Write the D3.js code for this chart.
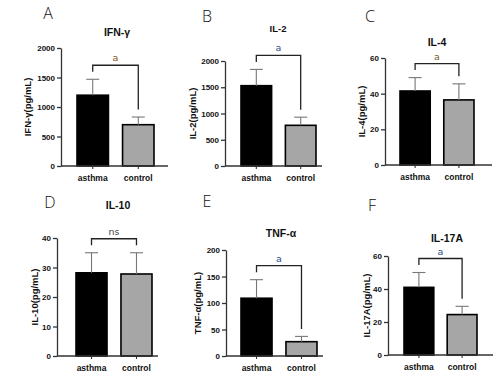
<!DOCTYPE html>
<html>
<head>
<meta charset="utf-8">
<script src="https://cdn.jsdelivr.net/npm/d3@7"></script>
<style>
  html, body { margin: 0; padding: 0; background: #fff; }
  svg { display: block; }
  text { font-family: "Liberation Sans", Arial, sans-serif; }
</style>
</head>
<body>
<div id="viz"></div>
<script>
// six cytokine panels, asthma vs control (mean + upper SD)

const panelLetters = ["A", "B", "C", "D", "E", "F"];
const cytokines = ["IFN-γ", "IL-2", "IL-4", "IL-10", "TNF-α", "IL-17A"];
const yAxisTitles = ["IFN-γ(pg/mL)", "IL-2(pg/mL)", "IL-4(pg/mL)", "IL-10(pg/mL)", "TNF-α(pg/mL)", "IL-17A(pg/mL)"];
const groups = ["asthma", "control"];

const asthmaMean = [1200, 1530, 41.5, 28.2, 109, 41];
const asthmaSD = [270, 310, 7.5, 6.8, 35, 9];
const controlMean = [700, 775, 36.5, 27.8, 27, 24.5];
const controlSD = [130, 155, 9, 7.2, 10, 5];

const yMax = [2000, 2000, 60, 40, 200, 60];
const yTickValues = [
    [0, 500, 1000, 1500, 2000],
    [0, 500, 1000, 1500, 2000],
    [0, 20, 40, 60],
    [0, 10, 20, 30, 40],
    [0, 50, 100, 150, 200],
    [0, 20, 40, 60]
];
const sigMarks = ["a", "a", "a", "ns", "a", "a"];

// where each panel sits on the page
const layout = [
    {ax: 61,  top: 48,  bottom: 166, xEnd: 168, b0: 77,  b1: 154, letter: [48, 13],   title: [117, 32],  labX: 28,  titleSize: 10.5, sigColor: "#8a5428"},
    {ax: 225, top: 61,  bottom: 166, xEnd: 322, b0: 241, b1: 316, letter: [207, 16],  title: [278, 29],  labX: 193, titleSize: 9.5,  sigColor: "#2f4a8c"},
    {ax: 385, top: 58,  bottom: 165, xEnd: 492, b0: 400, b1: 474, letter: [370, 16],  title: [437, 42],  labX: 362, titleSize: 10.5, sigColor: "#7a5a30"},
    {ax: 57,  top: 238, bottom: 356, xEnd: 158, b0: 76,  b1: 152, letter: [50, 202],  title: [118, 205], labX: 35,  titleSize: 10.5, sigColor: "#444"},
    {ax: 226, top: 250, bottom: 356, xEnd: 323, b0: 241, b1: 317, letter: [207, 201], title: [281, 233], labX: 198, titleSize: 10.5, sigColor: "#2f4a8c"},
    {ax: 388, top: 256, bottom: 355, xEnd: 493, b0: 404, b1: 477, letter: [372, 205], title: [447, 238], labX: 367, titleSize: 10.5, sigColor: "#2f4a8c"}
];

const barFill = {asthma: "#000", control: "#a6a6a6"};

const svg = d3.select('#viz').append('svg')
    .attr('width', 501)
    .attr('height', 376);

svg.append('rect').attr('width', 501).attr('height', 376).attr('fill', '#fff');

panelLetters.forEach(function(letter, i) {
    const L = layout[i];
    const g = svg.append('g');

    const rows = [
        {group: "asthma", mean: asthmaMean[i], sd: asthmaSD[i]},
        {group: "control", mean: controlMean[i], sd: controlSD[i]}
    ];

    const x = d3.scaleBand()
        .domain(groups)
        .range([L.b0, L.b1])
        .paddingInner(0.31)
        .paddingOuter(0);

    const y = d3.scaleLinear()
        .domain([0, yMax[i]])
        .range([L.bottom, L.top]);

    // panel letter
    g.append('text')
        .attr('x', L.letter[0])
        .attr('y', L.letter[1])
        .attr('dy', '0.35em')
        .attr('text-anchor', 'middle')
        .style('font-family', '"Open Sans", sans-serif')
        .style('font-weight', 300)
        .style('font-size', '16px')
        .style('fill', '#111')
        .text(letter);

    // title
    g.append('text')
        .attr('x', L.title[0])
        .attr('y', L.title[1])
        .attr('dy', '0.35em')
        .attr('text-anchor', 'middle')
        .style('font-weight', 'bold')
        .style('font-size', L.titleSize + 'px')
        .style('fill', '#111')
        .text(cytokines[i]);

    // bars
    g.selectAll('rect.bar')
        .data(rows)
        .enter()
        .append('rect')
            .attr('class', 'bar')
            .attr('x', d => x(d.group))
            .attr('y', d => y(d.mean))
            .attr('width', x.bandwidth())
            .attr('height', d => L.bottom - y(d.mean))
            .attr('fill', d => barFill[d.group])
            .attr('stroke', '#000')
            .attr('stroke-width', 1.6);

    // error bars (upper only)
    const capW = 13;
    const err = g.selectAll('g.err')
        .data(rows)
        .enter()
        .append('g')
            .attr('class', 'err')
            .attr('stroke', '#777')
            .attr('stroke-width', 1.1);

    err.append('line')
        .attr('x1', d => x(d.group) + x.bandwidth() / 2)
        .attr('x2', d => x(d.group) + x.bandwidth() / 2)
        .attr('y1', d => y(d.mean))
        .attr('y2', d => y(d.mean + d.sd));

    err.append('line')
        .attr('x1', d => x(d.group) + x.bandwidth() / 2 - capW / 2)
        .attr('x2', d => x(d.group) + x.bandwidth() / 2 + capW / 2)
        .attr('y1', d => y(d.mean + d.sd))
        .attr('y2', d => y(d.mean + d.sd));

    // y axis
    const yAxis = g.append('g')
        .attr('transform', `translate(${L.ax},0)`)
        .call(d3.axisLeft(y)
            .tickValues(yTickValues[i])
            .tickFormat(d3.format('d'))
            .tickSize(4).tickSizeOuter(0).tickPadding(2));
    yAxis.select('.domain').attr('stroke', '#333').attr('stroke-width', 1.3);
    yAxis.selectAll('.tick line').attr('stroke', '#333').attr('stroke-width', 1.3);
    yAxis.selectAll('.tick text')
        .style('font-family', '"Liberation Sans", Arial, sans-serif')
        .style('font-weight', 'bold')
        .style('font-size', '8px')
        .style('fill', '#111');

    // x axis
    const xAxis = g.append('g')
        .attr('transform', `translate(0,${L.bottom})`)
        .call(d3.axisBottom(x).tickSize(3).tickSizeOuter(0).tickPadding(6));
    xAxis.select('.domain').remove();
    xAxis.append('line')
        .attr('x1', L.ax).attr('x2', L.xEnd)
        .attr('stroke', '#333').attr('stroke-width', 1.3);
    xAxis.selectAll('.tick line').attr('stroke', '#333').attr('stroke-width', 1.1);
    xAxis.selectAll('.tick text')
        .style('font-family', '"Liberation Sans", Arial, sans-serif')
        .style('font-weight', 'bold')
        .style('font-size', '8.5px')
        .style('fill', '#111');

    // y axis title
    g.append('text')
        .attr('transform', `translate(${L.labX},${(L.top + L.bottom) / 2}) rotate(-90)`)
        .attr('dy', '0.35em')
        .attr('text-anchor', 'middle')
        .style('font-weight', 'bold')
        .style('font-size', '9.5px')
        .style('fill', '#111')
        .text(yAxisTitles[i]);

    // significance bracket
    const errTop = rows.map(d => y(d.mean + d.sd));
    const bracketY = d3.min(errTop) - 14;
    const cx = rows.map(d => x(d.group) + x.bandwidth() / 2);
    g.append('path')
        .attr('d', `M${cx[0]},${errTop[0] - 7.5}V${bracketY}H${cx[1]}V${errTop[1] - 7.5}`)
        .attr('fill', 'none')
        .attr('stroke', '#222')
        .attr('stroke-width', 1.3);

    g.append('text')
        .attr('x', (cx[0] + cx[1]) / 2)
        .attr('y', bracketY - 4)
        .attr('text-anchor', 'middle')
        .style('font-family', '"DejaVu Sans", sans-serif')
        .style('font-size', '9.5px')
        .style('fill', L.sigColor)
        .text(sigMarks[i]);
});
</script>
</body>
</html>
